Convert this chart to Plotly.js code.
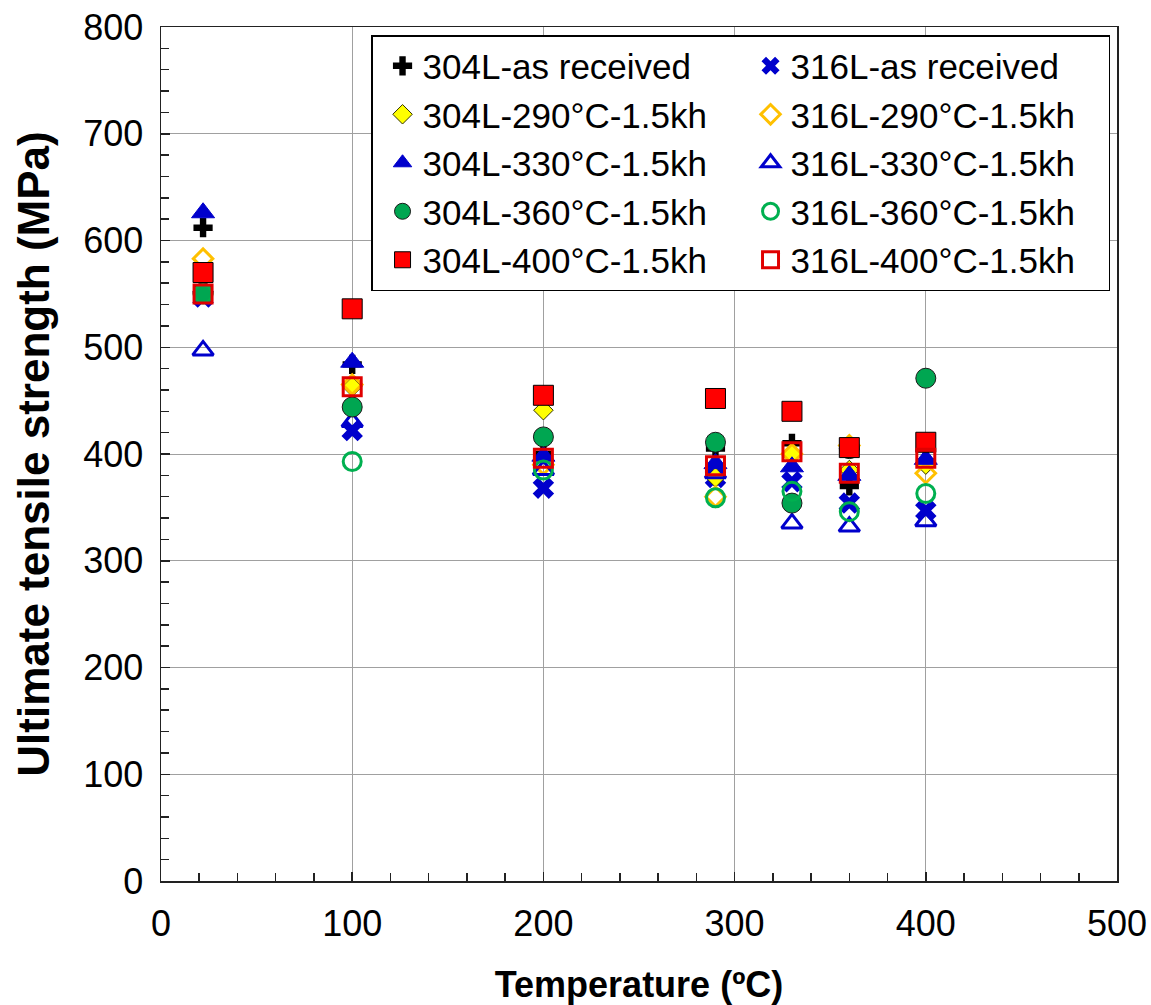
<!DOCTYPE html>
<html>
<head>
<meta charset="utf-8">
<script src="https://cdn.plot.ly/plotly-3.0.1.min.js"></script>
<style>html,body{margin:0;padding:0;background:#fff;}#chart{width:1151px;height:1005px;}</style>
</head>
<body>
<div id="chart"></div>
<script>
// Test temperatures (°C)
const temps = [22, 100, 200, 290, 330, 360, 400];

// Ultimate tensile strength (MPa), series in legend order (row by row)
const s304L_asReceived = [612, 484, 400, 405, 410, 370, 393];
const s316L_asReceived = [547, 422, 368, 378, 374, 354, 347];
const s304L_290 = [552, 463, 441, 378, 400, 385, 390];
const s316L_290 = [583, 465, 390, 360, 400, 408, 382];
const s304L_330 = [626, 486, 398, 391, 388, 380, 395];
const s316L_330 = [497, 430, 385, 382, 335, 332, 337];
const s304L_360 = [551, 444, 416, 411, 354, 405, 471];
const s316L_360 = [550, 393, 385, 359, 365, 346, 363];
const s304L_400 = [570, 536, 455, 452, 440, 406, 411];
const s316L_400 = [550, 463, 396, 389, 402, 382, 396];

const seriesNames = [
  "304L-as received", "316L-as received",
  "304L-290°C-1.5kh", "316L-290°C-1.5kh",
  "304L-330°C-1.5kh", "316L-330°C-1.5kh",
  "304L-360°C-1.5kh", "316L-360°C-1.5kh",
  "304L-400°C-1.5kh", "316L-400°C-1.5kh"
];
const seriesValues = [
  s304L_asReceived, s316L_asReceived,
  s304L_290, s316L_290,
  s304L_330, s316L_330,
  s304L_360, s316L_360,
  s304L_400, s316L_400
];
const markerStyles = [
  {symbol: "cross", size: 16, color: "#000000", line: {color: "#000000", width: 0}},
  {symbol: "x", size: 19, color: "#0000CC", line: {color: "#0000CC", width: 0}},
  {symbol: "diamond", size: 15, color: "#FFFF00", line: {color: "#333300", width: 1}},
  {symbol: "diamond-open", size: 15, color: "#FFC000", line: {color: "#FFC000", width: 3}},
  {symbol: "triangle-up", size: 20, color: "#0000CC", line: {color: "#0000CC", width: 1}},
  {symbol: "triangle-up-open", size: 18, color: "#0000CC", line: {color: "#0000CC", width: 3}},
  {symbol: "circle", size: 20, color: "#00A651", line: {color: "#1a1a1a", width: 1}},
  {symbol: "circle-open", size: 18, color: "#00B050", line: {color: "#00B050", width: 3}},
  {symbol: "square", size: 20, color: "#FF0000", line: {color: "#000000", width: 1}},
  {symbol: "square-open", size: 18, color: "#E00000", line: {color: "#E00000", width: 3}}
];

const traces = seriesNames.map((name, i) => ({
  type: "scatter",
  mode: "markers",
  name: name,
  x: temps,
  y: seriesValues[i],
  marker: markerStyles[i],
  cliponaxis: false
}));

const fontFam = "Arial, 'Liberation Sans', sans-serif";

const layout = {
  width: 1151,
  height: 1005,
  margin: {l: 161, r: 34, t: 27, b: 124},
  paper_bgcolor: "#ffffff",
  plot_bgcolor: "#ffffff",
  font: {family: fontFam, color: "#000000", size: 36},
  showlegend: true,
  legend: {
    orientation: "h",
    x: 0.2197, xanchor: "left",
    y: 0.9906, yanchor: "top",
    entrywidth: 313, entrywidthmode: "pixels",
    indentation: 10,
    bgcolor: "#ffffff",
    bordercolor: "#000000",
    borderwidth: 1.5,
    font: {family: fontFam, size: 35, color: "#000000"},
    traceorder: "normal"
  },
  xaxis: {
    range: [0, 500],
    dtick: 100,
    tick0: 0,
    showgrid: true,
    gridcolor: "#A0A0A0",
    gridwidth: 1,
    zeroline: false,
    showline: true,
    linecolor: "#222222",
    linewidth: 1.5,
    mirror: true,
    ticks: "inside",
    ticklen: 9,
    tickcolor: "#222222",
    tickwidth: 1.5,
    minor: {dtick: 20, ticks: "inside", ticklen: 8, tickcolor: "#222222", tickwidth: 1.5, showgrid: false},
    tickfont: {family: fontFam, size: 36},
    ticklabelstandoff: 10,
    title: {text: "<b>Temperature (ºC)</b>", font: {family: fontFam, size: 36}, standoff: 30}
  },
  yaxis: {
    range: [0, 800],
    dtick: 100,
    tick0: 0,
    showgrid: true,
    gridcolor: "#A0A0A0",
    gridwidth: 1,
    zeroline: false,
    showline: true,
    linecolor: "#222222",
    linewidth: 1.5,
    mirror: true,
    ticks: "inside",
    ticklen: 9,
    tickcolor: "#222222",
    tickwidth: 1.5,
    minor: {dtick: 20, ticks: "inside", ticklen: 8, tickcolor: "#222222", tickwidth: 1.5, showgrid: false},
    tickfont: {family: fontFam, size: 36},
    ticklabelstandoff: 9,
    title: {text: "<b>Ultimate tensile strength (MPa)</b>", font: {family: fontFam, size: 44}, standoff: 20}
  }
};

Plotly.newPlot("chart", traces, layout, {displayModeBar: false, staticPlot: true});
</script>
</body>
</html>
